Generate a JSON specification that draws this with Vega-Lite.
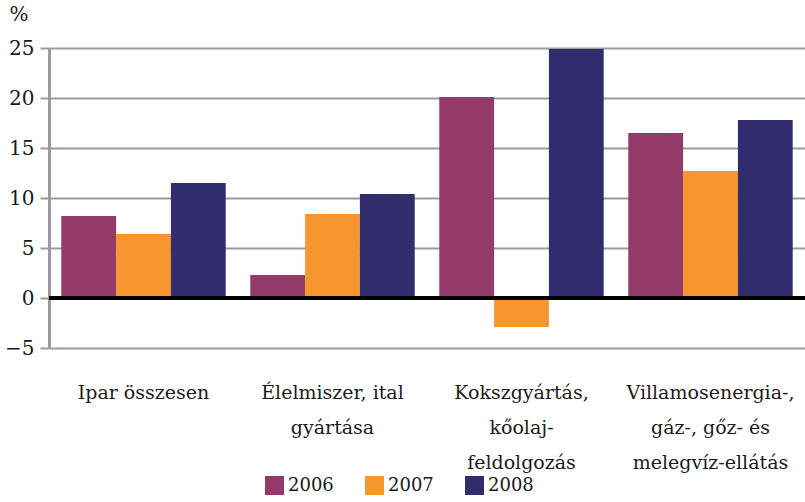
{
  "$schema": "https://vega.github.io/schema/vega-lite/v6.json",
  "autosize": {"type": "none"},
  "padding": {"left": 49, "top": 48, "right": 0, "bottom": 154},
  "width": 756,
  "height": 300,
  "background": "white",
  "config": {
    "view": {"stroke": null},
    "font": "DejaVu Serif"
  },
  "data": {
    "values": [
      {"cat": "Ipar összesen", "year": "2006", "value": 8.2},
      {"cat": "Ipar összesen", "year": "2007", "value": 6.4},
      {"cat": "Ipar összesen", "year": "2008", "value": 11.5},
      {"cat": "Élelmiszer, ital|gyártása", "year": "2006", "value": 2.3},
      {"cat": "Élelmiszer, ital|gyártása", "year": "2007", "value": 8.4},
      {"cat": "Élelmiszer, ital|gyártása", "year": "2008", "value": 10.4},
      {"cat": "Kokszgyártás,|kőolaj-|feldolgozás", "year": "2006", "value": 20.1},
      {"cat": "Kokszgyártás,|kőolaj-|feldolgozás", "year": "2007", "value": -2.9},
      {"cat": "Kokszgyártás,|kőolaj-|feldolgozás", "year": "2008", "value": 24.9},
      {"cat": "Villamosenergia-,|gáz-, gőz- és|melegvíz-ellátás", "year": "2006", "value": 16.5},
      {"cat": "Villamosenergia-,|gáz-, gőz- és|melegvíz-ellátás", "year": "2007", "value": 12.7},
      {"cat": "Villamosenergia-,|gáz-, gőz- és|melegvíz-ellátás", "year": "2008", "value": 17.8}
    ]
  },
  "layer": [
    {
      "mark": {"type": "bar"},
      "encoding": {
        "x": {
          "field": "cat", "type": "nominal", "sort": null,
          "scale": {"paddingInner": 0.13, "paddingOuter": 0.065},
          "axis": {
            "title": null, "domain": false, "ticks": false, "labelAngle": 0,
            "labelExpr": "split(datum.label, '|')",
            "labelFont": "DejaVu Serif", "labelFontSize": 19, "labelColor": "#1a1a1a",
            "labelPadding": 35, "labelLineHeight": 35, "labelLimit": 300
          }
        },
        "xOffset": {"field": "year", "type": "nominal"},
        "y": {
          "field": "value", "type": "quantitative",
          "scale": {"domain": [-5, 25], "nice": false, "zero": false},
          "axis": {
            "values": [-5, 0, 5, 10, 15, 20, 25],
            "title": "%", "titleAngle": 0, "titleAlign": "left", "titleBaseline": "top",
            "titleX": -40, "titleY": -44, "titleFont": "DejaVu Serif", "titleFontSize": 20,
            "titleFontWeight": "normal", "titleColor": "#1a1a1a",
            "labelFont": "DejaVu Serif", "labelFontSize": 20, "labelColor": "#1a1a1a",
            "labelPadding": 6,
            "grid": true, "gridColor": "#9a9b9e", "gridWidth": 2,
            "domainColor": "#9a9b9e", "domainWidth": 3,
            "tickColor": "#9a9b9e", "tickWidth": 2, "tickSize": 9
          }
        },
        "color": {
          "field": "year", "type": "nominal",
          "scale": {"domain": ["2006", "2007", "2008"], "range": ["#933a6b", "#f7962e", "#322d6f"]},
          "legend": {
            "title": null, "orient": "none", "direction": "horizontal",
            "legendX": 216, "legendY": 428,
            "symbolType": "square", "symbolSize": 361, "symbolStrokeWidth": 0,
            "symbolOpacity": 1,
            "labelFont": "DejaVu Serif", "labelFontSize": 18, "labelColor": "#1a1a1a",
            "labelOffset": 4, "columnPadding": 31
          }
        }
      }
    },
    {
      "mark": {"type": "rule", "color": "black", "strokeWidth": 4},
      "encoding": {"y": {"datum": 0}}
    }
  ]
}
